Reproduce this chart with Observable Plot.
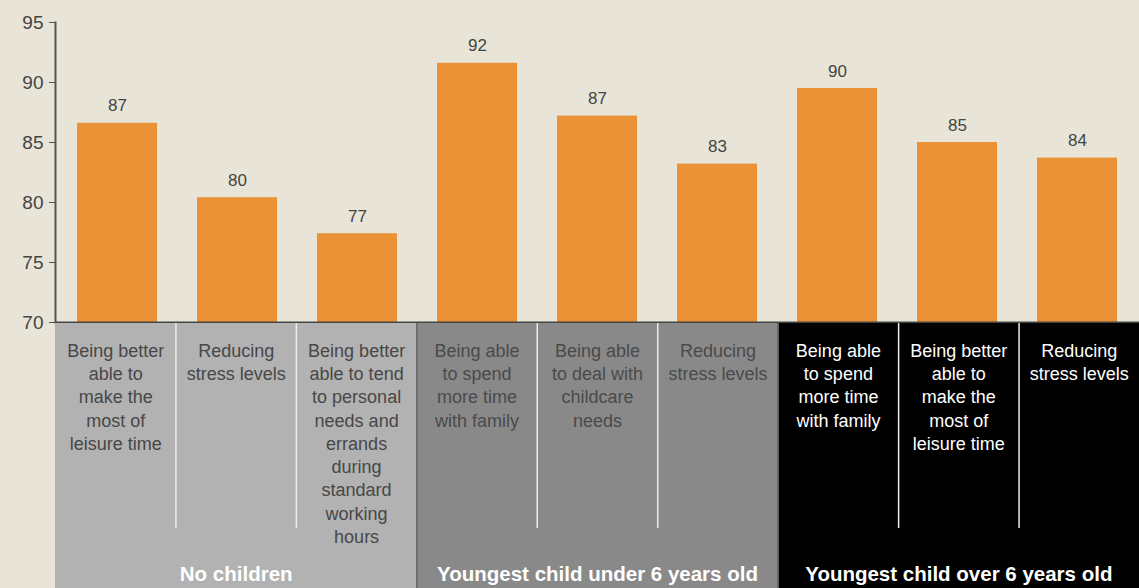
<!DOCTYPE html>
<html><head><meta charset="utf-8">
<script src="https://cdn.jsdelivr.net/npm/d3@7"></script>
<script src="https://cdn.jsdelivr.net/npm/@observablehq/plot@0.6"></script>
<style>
body{margin:0;background:#e8e4d8;}
#chart svg{display:block}
</style></head><body><div id="chart"></div>
<script>
const groups = ["No children", "Youngest child under 6 years old", "Youngest child over 6 years old"];
const groupOf = [0, 0, 0, 1, 1, 1, 2, 2, 2];
const labels = [
  "Being better\nable to\nmake the\nmost of\nleisure time",
  "Reducing\nstress levels",
  "Being better\nable to tend\nto personal\nneeds and\nerrands\nduring\nstandard\nworking\nhours",
  "Being able\nto spend\nmore time\nwith family",
  "Being able\nto deal with\nchildcare\nneeds",
  "Reducing\nstress levels",
  "Being able\nto spend\nmore time\nwith family",
  "Being better\nable to\nmake the\nmost of\nleisure time",
  "Reducing\nstress levels"
];
const values = [86.6, 80.4, 77.4, 91.6, 87.2, 83.2, 89.5, 85.0, 83.7];
const valueLabels = ["87", "80", "77", "92", "87", "83", "90", "85", "84"];
const yTicks = [70, 75, 80, 85, 90, 95];
const groupFills = ["#b2b2b2", "#898989", "#000000"];
const groupTextColors = ["#474747", "#4a4a4a", "#ffffff"];

const yMin = yTicks[0], yMax = yTicks[yTicks.length - 1];
const rows = values.map((v, i) => ({i, v, lab: valueLabels[i], label: labels[i], g: groupOf[i],
  first: i === 0 || groupOf[i - 1] !== groupOf[i]}));
const groupRows = groups.map((name, g) => {
  const idx = rows.filter(d => d.g === g).map(d => d.i);
  return {name, g, start: d3.min(idx), n: idx.length};
});
const font = "'Liberation Sans', Arial, Helvetica, sans-serif";

const bars = Plot.plot({
  width: 1139, height: 323, marginTop: 22, marginBottom: 1, marginLeft: 55, marginRight: 0,
  style: {background: "transparent", fontFamily: font, color: "#444", overflow: "visible"},
  x: {type: "band", domain: d3.range(values.length), paddingInner: 0.33, paddingOuter: 0.165, axis: null},
  y: {domain: [yMin, yMax], axis: null},
  marks: [
    Plot.barY(rows, {x: "i", y1: yMin, y2: "v", fill: "#ec9236"}),
    Plot.text(rows, {x: "i", y: "v", text: "lab", dy: -12, lineAnchor: "bottom", fill: "#444", fontSize: 17}),
    Plot.axisY({ticks: yTicks, tickSize: 6, tickPadding: 6, fontSize: 19, fill: "#444", stroke: "#555", label: null}),
    Plot.frame({anchor: "left", stroke: "#555", strokeWidth: 2}),
    Plot.ruleY([yMin], {stroke: "#444", strokeWidth: 2})
  ]
});

const table = Plot.plot({
  width: 1139, height: 265, marginTop: 0, marginBottom: 0, marginLeft: 55, marginRight: 0,
  style: {background: "transparent", fontFamily: font},
  x: {domain: [0, values.length], axis: null},
  color: {type: "identity"},
  marks: [
    Plot.rect(groupRows, {x1: "start", x2: d => d.start + d.n, fill: d => groupFills[d.g]}),
    Plot.ruleX(rows.filter(d => !d.first), {x: "i", stroke: "#eeeeee", strokeWidth: 1.5, insetBottom: 60}),
    Plot.ruleX(groupRows.filter(d => d.start > 0), {x: "start", stroke: "#666", strokeWidth: 1.5}),
    Plot.text(rows, {x: d => d.i + 0.5, text: "label", frameAnchor: "top", lineAnchor: "top", dy: 17,
      fontSize: 18, lineHeight: 1.29, fill: d => groupTextColors[d.g]}),
    Plot.text(groupRows, {x: d => d.start + d.n / 2, text: "name", frameAnchor: "bottom", lineAnchor: "bottom",
      dy: -8, fontSize: 20.5, fontWeight: "bold", fill: "#ffffff"})
  ]
});

const el = document.getElementById("chart");
el.append(bars, table);
</script></body></html>
